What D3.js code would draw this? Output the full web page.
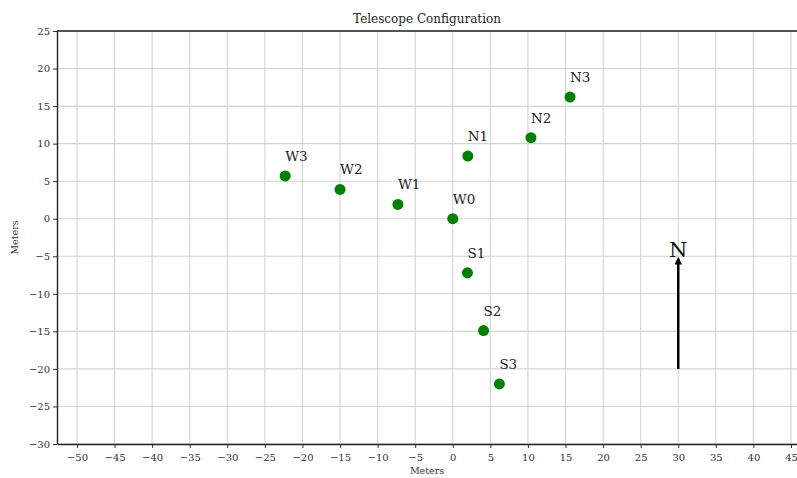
<!DOCTYPE html>
<html>
<head>
<meta charset="utf-8">
<script src="https://cdn.jsdelivr.net/npm/d3@7"></script>
<style>
  html, body { margin: 0; padding: 0; background: #fff; }
  svg { display: block; font-family: "DejaVu Serif", serif; }
</style>
</head>
<body>
<svg id="chart" width="797" height="478"></svg>
<script>
// Telescope positions (meters east / north of W0)
const names = ["W0", "W1", "W2", "W3", "N1", "N2", "N3", "S1", "S2", "S3"];
const xs = [0, -7.3, -15.0, -22.3, 2.0, 10.4, 15.6, 1.95, 4.1, 6.2];
const ys = [0, 1.9, 3.9, 5.7, 8.35, 10.8, 16.2, -7.2, -14.9, -22.0];

// North arrow
const arrowX = [30, 30];
const arrowY = [-20, -5.3];

const xTicks = d3.range(-50, 46, 5);
const yTicks = d3.range(-30, 26, 5);

const svg = d3.select("#chart");
const margin = { left: 57, top: 31, right: 0, bottom: 34 };
const W = 797, H = 478;

const x = d3.scaleLinear().domain([-52.66, 45.8]).range([margin.left, W - margin.right]);
const y = d3.scaleLinear().domain([-30, 25]).range([H - margin.bottom, margin.top]);

const fmt = d => (d < 0 ? "\u2212" + Math.abs(d) : String(d));

// grid
const grid = svg.append("g");
grid.selectAll("line.vx").data(xTicks).join("line")
  .attr("x1", d => x(d)).attr("x2", d => x(d))
  .attr("y1", y(25)).attr("y2", y(-30))
  .attr("stroke", "#d3d3d3").attr("stroke-width", 1.1);
grid.selectAll("line.hy").data(yTicks).join("line")
  .attr("x1", x.range()[0]).attr("x2", x.range()[1])
  .attr("y1", d => y(d)).attr("y2", d => y(d))
  .attr("stroke", "#d3d3d3").attr("stroke-width", 1.1);

// axes
const xAxis = svg.append("g")
  .attr("transform", `translate(0,${y(-30)})`)
  .call(d3.axisBottom(x).tickValues(xTicks).tickFormat(fmt).tickSize(4).tickSizeOuter(0));
const yAxis = svg.append("g")
  .attr("transform", `translate(${x.range()[0]},0)`)
  .call(d3.axisLeft(y).tickValues(yTicks).tickFormat(fmt).tickSize(4).tickSizeOuter(0));

[xAxis, yAxis].forEach(a => {
  a.selectAll("text").attr("font-family", "DejaVu Serif").attr("font-size", 10).attr("fill", "#333");
  a.select(".domain").attr("stroke", "#222").attr("stroke-width", 1.4);
  a.selectAll(".tick line").attr("stroke", "#333");
});
xAxis.selectAll("text").attr("dy", "1.0em");

// top spine
svg.append("line")
  .attr("x1", x.range()[0]).attr("x2", x.range()[1])
  .attr("y1", y(25)).attr("y2", y(25))
  .attr("stroke", "#222").attr("stroke-width", 1.4);

// title and axis labels
svg.append("text").attr("x", 427).attr("y", 23)
  .attr("text-anchor", "middle").attr("font-size", 12).attr("fill", "#222")
  .text("Telescope Configuration");
svg.append("text").attr("x", 427).attr("y", 474)
  .attr("text-anchor", "middle").attr("font-size", 9.5).attr("fill", "#333")
  .text("Meters");
svg.append("text")
  .attr("transform", `translate(18,${(y(25) + y(-30)) / 2}) rotate(-90)`)
  .attr("text-anchor", "middle").attr("font-size", 9.5).attr("fill", "#333")
  .text("Meters");

// telescopes
const pts = names.map((n, i) => ({ name: n, x: xs[i], y: ys[i] }));
svg.append("g").selectAll("circle").data(pts).join("circle")
  .attr("cx", d => x(d.x)).attr("cy", d => y(d.y))
  .attr("r", 5.5).attr("fill", "#008000");
svg.append("g").selectAll("text").data(pts).join("text")
  .attr("x", d => x(d.x)).attr("y", d => y(d.y) - 15)
  .attr("font-size", 13.5).attr("fill", "#222")
  .text(d => d.name);

// north arrow
svg.append("defs").append("marker")
  .attr("id", "head").attr("viewBox", "0 0 10 10")
  .attr("refX", 8).attr("refY", 5)
  .attr("markerWidth", 3).attr("markerHeight", 3)
  .attr("orient", "auto")
  .append("path").attr("d", "M0,0 L10,5 L0,10 Z").attr("fill", "#000");
svg.append("line")
  .attr("x1", x(arrowX[0])).attr("y1", y(arrowY[0]))
  .attr("x2", x(arrowX[1])).attr("y2", y(arrowY[1]))
  .attr("stroke", "#000").attr("stroke-width", 2.5)
  .attr("marker-end", "url(#head)");
svg.append("text")
  .attr("x", x(arrowX[1])).attr("y", y(arrowY[1]) - 2)
  .attr("text-anchor", "middle").attr("font-size", 21).attr("fill", "#111")
  .text("N");
</script>
</body>
</html>
